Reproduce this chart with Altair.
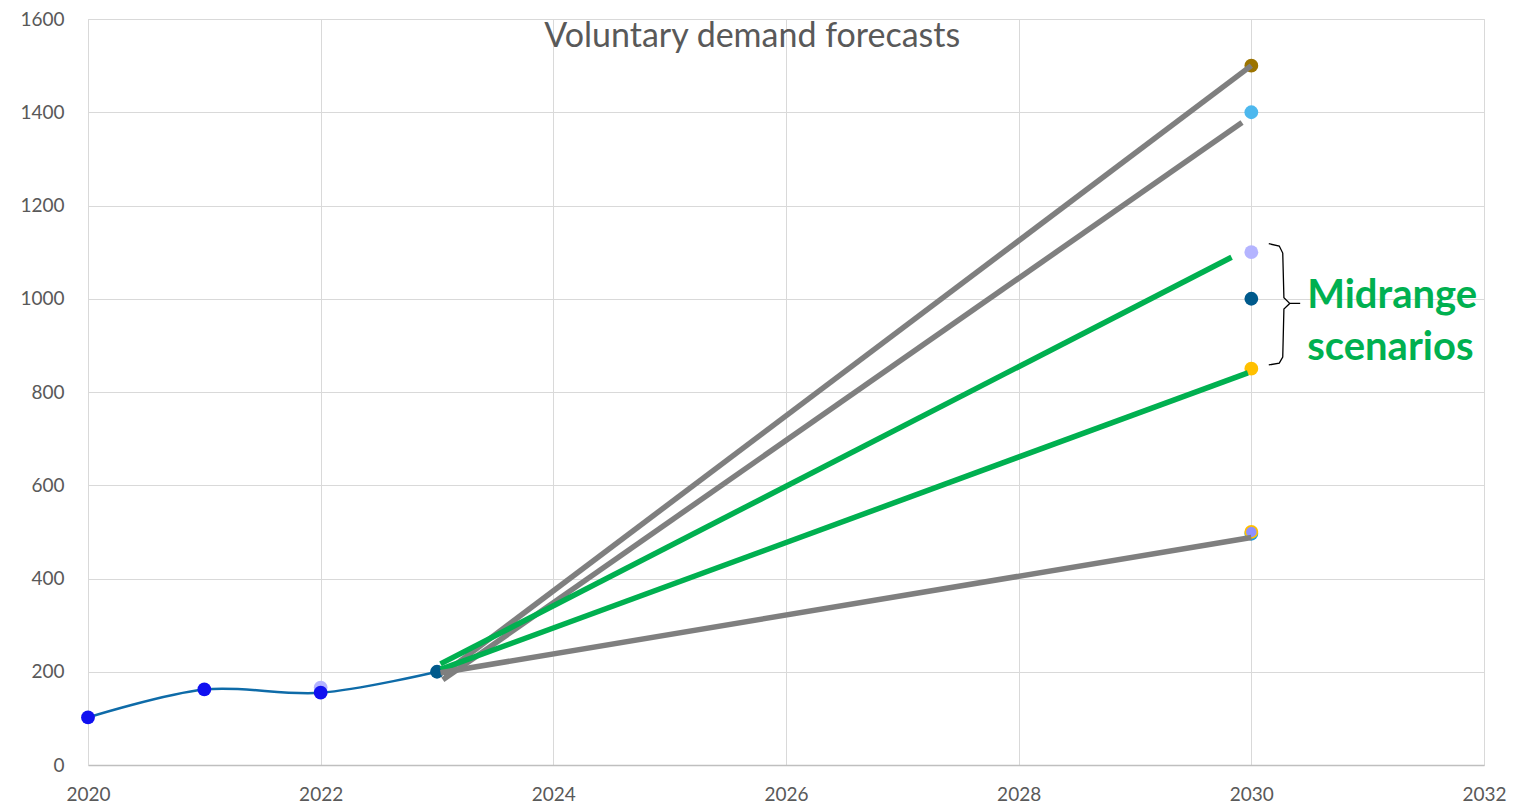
import altair as alt
import pandas as pd

# Historical series
hist_years = [2020, 2021, 2022, 2023]
hist_values = [102, 162, 155, 200]
hist_colors = ["#1010F0", "#1010F0", "#1010F0", "#005A8C"]

# extra marker at 2022
extra_years = [2022]
extra_values = [166]
extra_colors = ["#B4B4FF"]

# 2030 forecast markers
fc_years = [2030, 2030, 2030, 2030, 2030, 2030, 2030, 2030]
fc_values = [1500, 1400, 1100, 1000, 850, 496, 500, 500]
fc_colors = ["#9C7400", "#4DB8EE", "#B4B4FF", "#005A8C", "#FFC000", "#1E9BE0", "#FFC000", "#8F8FFF"]
fc_sizes = [190, 190, 190, 190, 190, 190, 190, 110]

# scenario lines
sc_x1 = [2023.05, 2023.05, 2023.03, 2023.03, 2023.03]
sc_y1 = [195, 183, 217, 205, 198]
sc_x2 = [2030.0, 2029.92, 2029.83, 2029.97, 2030.0]
sc_y2 = [1500, 1378, 1089, 841, 488]
sc_colors = ["#7F7F7F", "#7F7F7F", "#00B050", "#00B050", "#7F7F7F"]

# brace annotation path
brace_x = [2030.15, 2030.24, 2030.27, 2030.28, 2030.33, 2030.42, 2030.33, 2030.28, 2030.27, 2030.24, 2030.15]
brace_y = [1118, 1113, 1098, 1002, 990, 990, 990, 978, 875, 862, 858]
brace_order = list(range(len(brace_x)))

x_ticks = [2020, 2022, 2024, 2026, 2028, 2030, 2032]
y_ticks = [0, 200, 400, 600, 800, 1000, 1200, 1400, 1600]

FONT = "Lato"
GRAY = "#595959"

xs = alt.Scale(domain=[2020, 2032], nice=False, zero=False)
ys = alt.Scale(domain=[0, 1600], nice=False)

x_axis = alt.Axis(values=x_ticks, format="d", title=None, labelFontSize=19, labelColor=GRAY,
                  labelFont=FONT, grid=True, gridColor="#D9D9D9", ticks=False, domainColor="#BFBFBF",
                  domainWidth=1.5, labelPadding=20, labelFlush=False)
y_axis = alt.Axis(values=y_ticks, format="d", title=None, labelFontSize=19, labelColor=GRAY, labelFont=FONT,
                  grid=True, gridColor="#D9D9D9", ticks=False, domainColor="#D9D9D9", labelPadding=24,
                  labelFlush=False)

hist_df = pd.DataFrame({"x": hist_years, "y": hist_values, "c": hist_colors})
extra_df = pd.DataFrame({"x": extra_years, "y": extra_values, "c": extra_colors})
fc_df = pd.DataFrame({"x": fc_years, "y": fc_values, "c": fc_colors, "s": fc_sizes})
sc_df = pd.DataFrame({"x": sc_x1, "y": sc_y1, "x2": sc_x2, "y2": sc_y2, "c": sc_colors})
brace_df = pd.DataFrame({"x": brace_x, "y": brace_y, "o": brace_order})

base_line = alt.Chart(hist_df).mark_line(color="#0E6BA8", strokeWidth=2.5, interpolate="catmull-rom").encode(
    x=alt.X("x:Q", scale=xs, axis=x_axis),
    y=alt.Y("y:Q", scale=ys, axis=y_axis),
)

extra_pts = alt.Chart(extra_df).mark_circle(size=190, opacity=1).encode(
    x=alt.X("x:Q", scale=xs), y=alt.Y("y:Q", scale=ys), color=alt.Color("c:N", scale=None)
)

hist_pts = alt.Chart(hist_df).mark_circle(size=190, opacity=1).encode(
    x=alt.X("x:Q", scale=xs), y=alt.Y("y:Q", scale=ys), color=alt.Color("c:N", scale=None)
)

fc_pts = alt.Chart(fc_df).mark_circle(opacity=1).encode(
    x=alt.X("x:Q", scale=xs), y=alt.Y("y:Q", scale=ys), color=alt.Color("c:N", scale=None),
    size=alt.Size("s:Q", scale=None)
)

sc_lines = alt.Chart(sc_df).mark_rule(strokeWidth=5.5, strokeCap="butt").encode(
    x=alt.X("x:Q", scale=xs), y=alt.Y("y:Q", scale=ys), x2="x2:Q", y2="y2:Q",
    color=alt.Color("c:N", scale=None)
)

brace = alt.Chart(brace_df).mark_line(color="#000000", strokeWidth=1.3).encode(
    x=alt.X("x:Q", scale=xs), y=alt.Y("y:Q", scale=ys), order="o:Q"
)

title_df = pd.DataFrame({"x": [2025.71], "y": [1562], "t": ["Voluntary demand forecasts"]})
title = alt.Chart(title_df).mark_text(fontSize=34, font=FONT, color=GRAY, align="center", baseline="middle").encode(
    x=alt.X("x:Q", scale=xs), y=alt.Y("y:Q", scale=ys), text="t:N"
)

mid_df = pd.DataFrame({"x": [2030.48, 2030.48], "y": [1005, 895], "t": ["Midrange", "scenarios"]})
mid = alt.Chart(mid_df).mark_text(fontSize=40, font=FONT, fontWeight="bold", color="#00B050",
                                  align="left", baseline="middle").encode(
    x=alt.X("x:Q", scale=xs), y=alt.Y("y:Q", scale=ys), text="t:N"
)

chart = alt.layer(base_line, extra_pts, hist_pts, fc_pts, sc_lines, brace, title, mid).properties(
    width=1396, height=746,
    autosize=alt.AutoSizeParams(type="none"),
    padding={"left": 80, "top": 11, "right": 30, "bottom": 41},
).configure_view(stroke=None).configure(background="white")

chart.save("out.html", embed_options={"renderer": "svg", "actions": False})
